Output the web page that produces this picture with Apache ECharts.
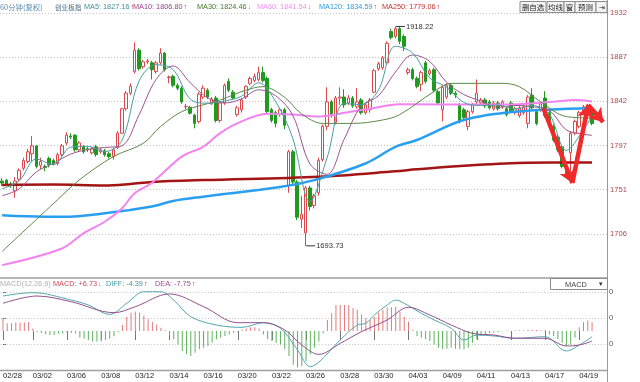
<!DOCTYPE html>
<html><head><meta charset="utf-8">
<script src="https://cdn.jsdelivr.net/npm/echarts@6/dist/echarts.min.js"></script>
<style>html,body{margin:0;padding:0;background:#fff}#c{width:640px;height:382px}</style>
</head><body><div id="c"></div>
<script>
// ---- data ----
const days = ["02/28","03/01","03/02","03/05","03/06","03/07","03/08","03/09","03/12","03/13","03/14","03/15","03/16","03/19","03/20","03/21","03/22","03/23","03/26","03/27","03/28","03/29","03/30","04/02","04/03","04/04","04/09","04/10","04/11","04/12","04/13","04/16","04/17","04/18","04/19"];
const labelDays = ["02/28","03/02","03/06","03/08","03/12","03/14","03/16","03/20","03/22","03/26","03/28","03/30","04/03","04/09","04/11","04/13","04/17","04/19"];
// [open, close, low, high]
const candles = [
[1760,1758,1755,1763],[1761,1757,1755,1762],[1757,1756,1753,1759],[1750,1760,1743,1764],[1762,1771,1760,1773],[1773,1781,1771,1784],[1780,1790,1778,1793],
[1788,1796,1780,1806],[1796,1775,1773,1797],[1776,1780,1772,1784],[1775,1774,1770,1777],
[1783,1777,1774,1785],[1781,1778,1776,1783],[1778,1787,1776,1789],[1787,1796,1785,1798],
[1799,1807,1797,1810],[1806,1805,1803,1809],[1807,1792,1790,1808],[1792,1799,1790,1801],
[1795,1790,1788,1797],[1793,1792,1790,1795],[1789,1793,1787,1795],[1795,1787,1785,1797],
[1790,1792,1788,1794],[1791,1787,1785,1793],[1788,1785,1783,1790],[1785,1792,1782,1794],
[1794,1809,1793,1811],[1809,1834,1808,1835],[1834,1850,1832,1852],[1850,1857,1848,1860],
[1872,1894,1870,1902],[1894,1875,1873,1896],[1877,1882,1875,1884],[1882,1883,1880,1885],
[1881,1874,1864,1883],[1872,1881,1870,1883],[1881,1891,1879,1896],[1891,1874,1872,1892],
[1866,1866.5,1860,1868],[1867,1858,1856,1869],[1858,1855,1853,1860],[1855,1841,1839,1857],
[1836,1836.5,1833,1839],[1835.5,1829.5,1828,1837],[1827.6,1819,1814,1829],[1821,1849,1819,1851],
[1846,1855,1844,1858],[1853,1846,1844,1855],[1839,1844,1838,1846],[1845,1822,1820,1847],
[1822,1840,1820,1842],[1840,1858,1838,1860],[1862,1853,1851,1865],[1851,1845,1843,1853],
[1828,1835,1826,1837],[1833,1843,1830,1845],[1846,1857,1844,1858],[1860,1865,1858,1867],
[1863,1867,1861,1870],[1864,1871,1862,1877],[1871,1863,1861,1877],[1865,1831,1829,1867],
[1833,1822,1820,1835],[1830,1819,1815,1832],[1828,1833,1826,1835],[1833,1817,1813,1835],
[1755,1790,1748,1792],[1790,1759,1757,1792],[1759,1723,1720,1761],[1721,1726,1712,1745],
[1707,1753,1693.73,1755],[1753,1734,1730,1755],[1735,1745,1732,1747],[1748,1781,1745,1784],
[1782,1816,1780,1818],[1816,1841,1812,1856],[1841,1827,1825,1843],[1820,1845,1818,1847],
[1845,1846,1838,1856],[1846,1838,1835,1854],[1840,1845,1838,1848],[1845,1837,1835,1847],
[1836,1841,1834,1855],[1843,1830,1828,1845],[1830,1838,1828,1840],[1833,1843,1830,1845],
[1851,1873,1850,1875],[1875,1880,1873,1882],[1876,1886,1874,1888],[1881,1901,1879,1903],
[1913,1907,1905,1916],[1908,1916,1906,1918.22],[1916,1903,1900,1918],[1908,1898,1893,1910],
[1871,1874,1869,1876],[1874,1865,1863,1876],[1865,1857,1855,1867],[1859,1871,1852,1873],
[1881,1862,1860,1883],[1870,1873,1868,1875],[1874,1853,1851,1876],[1851.5,1840,1838,1853],
[1833,1856,1821,1858],[1846,1858,1844,1860],[1858,1850,1848,1860],[1850,1848,1845,1852],
[1838,1821,1819,1840],[1833,1825,1822,1835],[1816,1831,1812,1833],[1831,1838,1829,1840],
[1841,1850,1838,1864],[1840,1843,1838,1845],[1843,1837,1835,1845],[1841,1835,1833,1843],
[1834,1840,1832,1842],[1840,1834,1832,1842],[1836,1841,1834,1843],[1834,1828,1826,1836],
[1840,1832,1830,1842],[1830,1834,1828,1836],[1827,1835,1825,1837],[1830,1836,1828,1838],
[1819,1846,1814,1848],[1848,1835,1833,1855],[1831,1819,1817,1833],[1833,1839,1831,1841],
[1845,1827,1825,1852],[1830,1822,1820,1832],[1816,1802,1800,1818],[1805,1792,1790,1807],
[1795,1775,1773,1797],[1770,1766,1762,1776],[1789,1809,1768,1811],[1809,1821,1807,1823],
[1816,1830,1814,1832],[1830,1836,1828,1838],[1836,1833,1828,1839],[1833,1819,1817,1835]
];
// moving averages: [bar index, value]
const ma5 = [[0,1752],[4,1760.4],[8,1782.6],[12,1776.8],[16,1794.6],[20,1795.6],[24,1790.2],[28,1801.4],[32,1862],[36,1879],[40,1874],[44,1843.9],[48,1839.7],[52,1842],[56,1846.8],[60,1860.6],[64,1841.2],[68,1803.6],[72,1739],[76,1783.6],[80,1839.4],[84,1838.2],[88,1852.8],[92,1898],[96,1891.2],[100,1865.6],[104,1856],[108,1840.4],[112,1837.4],[116,1837.8],[120,1833.8],[124,1837.2],[128,1828.4],[132,1791.4],[136,1812.4],[138,1827.16]];
const ma10 = [[0,1745],[4,1752],[8,1769.4],[12,1778.2],[16,1787.5],[20,1792.3],[24,1794.4],[28,1796.1],[32,1827.5],[36,1863.9],[40,1877.8],[44,1860.6],[48,1845.5],[52,1839.9],[56,1844.1],[60,1853.4],[64,1847.3],[68,1827.2],[72,1777.6],[76,1766.9],[80,1802.7],[84,1836.6],[88,1847.1],[92,1871.5],[96,1889],[100,1882.6],[104,1860.9],[108,1848.6],[112,1842],[116,1835.4],[120,1837.4],[124,1836.1],[128,1832.5],[132,1812.3],[136,1808],[138,1806.8]];
const ma30 = [[0,1688],[13,1741],[18,1761],[26,1785],[33,1798.6],[37,1815.6],[42,1831],[47,1838],[51,1843],[57,1853],[61,1856.6],[66,1846],[70,1829],[75,1819],[82,1819],[89,1822.5],[93,1828],[101,1851.5],[105,1860],[117,1860],[121,1856.6],[126,1841],[132,1826],[138,1824.46]];
const ma60 = [[0,1674],[14,1691],[19,1706.5],[24,1718.4],[28,1732],[31,1747.5],[35,1758],[42,1785],[47,1795],[51,1809],[55,1819],[62,1829],[68,1828],[74,1826],[79,1829],[86,1834],[93,1838.5],[117,1838.4],[128,1840.8],[134,1843],[138,1841.54]];
const ma120 = [[0,1725],[10,1723.5],[14,1723.5],[24,1727],[35,1734],[40,1739.6],[47,1744],[65,1754],[73,1761],[85,1778],[92,1795],[97,1802],[108,1822.5],[120,1831],[138,1834.59]];
const ma250 = [[0,1756],[12,1756.5],[24,1755.5],[30,1757],[35,1759],[47,1761],[74,1764.5],[92,1770],[97,1772],[108,1775.7],[123,1778.8],[138,1779.06]];
// MACD
const macdHist = [10,6,6,6.5,6.5,6.5,7,2,-1,-1.5,-2.5,-3,-3,-2,-2,-1,-1.5,-2,-5,-6,-7,-8,-8,-8,-7,-6,-4,-1,4.6,11,14,15,14,12,9,7,5,2.5,0.5,-3.9,-6.4,-10.3,-15.4,-17.9,-19.2,-16.7,-14.1,-12.8,-11.5,-9,-6.4,-5.1,-3.8,-2.6,-1.3,-0.5,1,2,2.8,2.8,2,-2.6,-6.4,-7.7,-9,-10.3,-14.1,-19.2,-26,-28,-27,-23,-17.9,-12.8,-8,-2,8.5,13.6,20,20,20,20,17.7,16.5,12.6,10,8.5,11,14.1,16.2,18.2,18.2,18.7,14.9,11,7.2,0.8,-3.8,-5.1,-6.4,-7.7,-10.3,-12.8,-14.1,-13.6,-12.8,-13.6,-14.1,-14.1,-12.8,-9,-6.4,-3.8,-2.6,-1.8,-1.3,-1,-0.3,0.4,-0.4,0.4,0.5,0.5,1,1,0.8,0.5,0.8,-2.6,-3.8,-6.4,-9,-11.5,-10.3,-5.1,2.8,6.7,8,6.73];
const diff = [[0,26.9],[7,29.5],[16,23.8],[20,20],[25,12.8],[29,21.3],[33,30.2],[37,30.2],[40,23.8],[44,11],[50,4.6],[56,2.8],[61,6.4],[65,2.1],[69,-14.6],[72,-27.4],[74,-24],[79,-6.9],[83,4.6],[85,5.9],[87,12.3],[90,20],[92,23.8],[94,21.3],[98,13.6],[101,8.5],[105,2.1],[108,-6.9],[111,-3.1],[115,-3.8],[120,-5.6],[127,-4.4],[132,-15.4],[135,-10.8],[138,-4.39]];
const dea = [[0,21.3],[8,26.9],[16,22.5],[26,14.1],[31,18.7],[39,28.5],[47,18.7],[55,6.4],[61,6.4],[66,0.8],[70,-10.8],[74,-18],[79,-9.5],[84,-0.5],[90,8.5],[95,18.2],[100,12.3],[105,4.6],[110,-1.8],[115,-3.1],[120,-5.6],[127,-5.6],[132,-11.5],[135,-10.8],[138,-7.75]];
const priceTicks = ["1706","1751","1797","1842","1887","1932"];
// hand-drawn red arrow annotation (bar index, price)
const arrowPts = [[126.6,1834.8],[133.4,1758],[137.1,1837.8],[140.6,1820.4]];
// header legend items: [x, text, colour, trend]
const headerMA = [[84,'MA5: 1827.16','#3f8e98','up'],[133,'MA10: 1806.80','#9a3f88','up'],[197,'MA30: 1824.46','#3f7a2c','down'],[257,'MA60: 1841.54','#f58ef2','down'],[319,'MA120: 1834.59','#2b9de6','up'],[382,'MA250: 1779.06','#c43434','up']];
const headerMACD = [[53,'MACD: +6.73','#cc4a5c','down'],[106,'DIFF: -4.39','#3a9aa0','up'],[155,'DEA: -7.75','#9a4a8f','up']];

// ---- build ----
const cats = [], labelIdx = new Set();
days.forEach((d, k) => {
  const nb = k === 0 ? 3 : 4;
  if (labelDays.includes(d)) labelIdx.add(cats.length);
  for (let j = 0; j < nb; j++) cats.push(d + '#' + j);
});
const EMPTY = 3;
for (let j = 0; j < EMPTY; j++) cats.push('#e' + j);
const N = cats.length;

let hiI = 0, loI = 0;
candles.forEach((c, i) => { if (c[3] > candles[hiI][3]) hiI = i; if (c[2] < candles[loI][2]) loI = i; });

const FONT = "'Liberation Sans','Noto Sans CJK SC',sans-serif";
const CJK = "'Noto Sans CJK SC',sans-serif";
const G0 = {left: -3, top: 13, width: 610, height: 265};
const G1 = {left: -3, top: 279, width: 610, height: 91};
const Y0min = 1660.8, Y0int = 45.2;

function maLine(name, data, color, width, z) {
  return {type: 'line', name, xAxisIndex: 1, yAxisIndex: 0, data, smooth: 0.35, showSymbol: false,
    symbol: 'none', lineStyle: {color, width}, z, silent: true, animation: false};
}
const arrowSegs = [];
for (let k = 0; k < arrowPts.length - 1; k++) arrowSegs.push({coords: [arrowPts[k], arrowPts[k + 1]]});

const mctx = document.createElement('canvas').getContext('2d');
const HF = "7.3px " + FONT;
mctx.font = HF;
const gtext = (x, y, text, fill, font) => ({type: 'text', x, y, silent: true, z: 100,
  style: {text, fill, font: font || HF, verticalAlign: 'middle'}});
const graphics = [
  gtext(0, 7, '60分钟(复权)', '#5b8db3', "7.4px " + CJK),
  gtext(55, 7, '创业板指', '#4a6a85', "6.6px " + CJK),
  gtext(0, 284, 'MACD(12,26,9)', '#b0b0b0'),
];
function addHeader(items, y) {
  items.forEach(([x, t, c, tr]) => {
    graphics.push(gtext(x, y, t, c));
    const w = mctx.measureText(t).width;
    graphics.push(gtext(x + w + 1, y, tr === 'up' ? '↑' : '↓', tr === 'up' ? '#e02020' : '#20b8d8'));
  });
}
addHeader(headerMA, 7);
addHeader(headerMACD, 284);
// toolbar buttons
const btns = [['删自选',520,26],['均线',547,17],['窗',564,11],['预测',575,21],['⇥',596,11]];
btns.forEach(([t, x, w]) => {
  graphics.push({type: 'rect', shape: {x, y: 1.5, width: w, height: 11}, style: {fill: '#f3f3f3', stroke: '#8c8c8c', lineWidth: 1}, z: 99, silent: true});
  graphics.push({type: 'text', x: x + w / 2, y: 7.5, z: 100, silent: true, style: {text: t, fill: '#222', font: "7.4px " + FONT, align: 'center', verticalAlign: 'middle'}});
});
// frame lines
graphics.push({type: 'line', shape: {x1: 607.5, y1: 0, x2: 607.5, y2: 382}, style: {stroke: '#9a9a9a', lineWidth: 1}, z: 98, silent: true});
graphics.push({type: 'line', shape: {x1: 0, y1: 278, x2: 607, y2: 278}, style: {stroke: '#a0a0a0', lineWidth: 1.5}, z: 98, silent: true});
graphics.push({type: 'line', shape: {x1: 0, y1: 370.5, x2: 607, y2: 370.5}, style: {stroke: '#a0a0a0', lineWidth: 1.5}, z: 98, silent: true});
graphics.push({type: 'rect', shape: {x: 550.5, y: 278.5, width: 57, height: 11}, style: {fill: '#fff', stroke: '#8c8c8c', lineWidth: 1}, z: 99, silent: true});
graphics.push({type: 'text', x: 576, y: 284.5, z: 100, silent: true, style: {text: 'MACD', fill: '#444', font: "7.4px " + FONT, align: 'center', verticalAlign: 'middle'}});
graphics.push({type: 'text', x: 601, y: 284.5, z: 100, silent: true, style: {text: '▾', fill: '#333', font: "7px " + FONT, align: 'center', verticalAlign: 'middle'}});

const chart = echarts.init(document.getElementById('c'), null, {renderer: 'canvas'});
chart.setOption({
  animation: false,
  backgroundColor: '#fff',
  grid: [G0, G1],
  xAxis: [
    {type: 'category', gridIndex: 0, data: cats, boundaryGap: true, axisLine: {show: false}, axisTick: {show: false}, axisLabel: {show: false}, splitLine: {show: false}},
    {type: 'value', gridIndex: 0, min: -0.5, max: N - 0.5, show: false},
    {type: 'category', gridIndex: 1, data: cats, boundaryGap: true,
      axisLine: {show: false},
      axisTick: {show: true, alignWithLabel: true, interval: (i) => labelIdx.has(i), length: 9, lineStyle: {color: '#777'}, inside: false},
      axisLabel: {show: true, interval: (i) => labelIdx.has(i), formatter: (v) => v.slice(0, 5), align: 'left', margin: 2, color: '#222', fontSize: 7.6, fontFamily: FONT},
      splitLine: {show: false}},
    {type: 'value', gridIndex: 1, min: -0.5, max: N - 0.5, show: false}
  ],
  yAxis: [
    {type: 'value', gridIndex: 0, position: 'right', min: Y0min, max: Y0min + 6 * Y0int, interval: Y0int, scale: true,
      axisLine: {show: false}, axisTick: {show: false},
      axisLabel: {margin: 3, color: '#b04646', fontSize: 7.6, fontFamily: FONT, showMinLabel: false,
        formatter: (v) => { const k = Math.round((v - Y0min) / Y0int); return k >= 1 ? priceTicks[k - 1] : ''; }},
      splitLine: {show: true, showMinLine: false, lineStyle: {color: '#c4c4c4', type: [1, 2], width: 1}}},
    {type: 'value', gridIndex: 1, position: 'right', min: -30, max: 40, interval: 20,
      axisLine: {show: false}, axisTick: {show: true, length: 3, lineStyle: {color: '#777'}},
      axisLabel: {margin: 2, color: '#555', fontSize: 7.6, fontFamily: FONT, showMinLabel: false, showMaxLabel: false,
        formatter: (v) => String(Math.abs(v)).slice(-1)},
      splitLine: {show: true, showMinLine: false, showMaxLine: false, lineStyle: {color: '#c4c4c4', type: [1, 2], width: 1}}}
  ],
  graphic: graphics,
  series: [
    {type: 'candlestick', name: 'K', xAxisIndex: 0, yAxisIndex: 0, data: candles, barWidth: 3, z: 2,
      itemStyle: {color: '#ffffff', color0: '#1f9a1f', borderColor: '#e0474c', borderColor0: '#1f9a1f', borderWidth: 1},
      markPoint: {symbol: 'rect', symbolSize: [9, 1], symbolOffset: [5, 0], silent: true, animation: false,
        itemStyle: {color: '#333'},
        label: {show: true, position: 'right', distance: 1, color: '#333', fontSize: 7.6, fontFamily: FONT, formatter: (p) => p.data.txt},
        data: [
          {coord: [hiI, candles[hiI][3]], txt: candles[hiI][3].toFixed(2)},
          {coord: [loI, candles[loI][2]], txt: candles[loI][2].toFixed(2)}
        ]}
    },
    maLine('MA250', ma250, '#a31515', 2.5, 3),
    maLine('MA120', ma120, '#2a9ff2', 2.5, 4),
    maLine('MA60', ma60, '#f283f0', 2, 5),
    maLine('MA30', ma30, '#5c8a4a', 1, 6),
    maLine('MA10', ma10, '#9c5590', 1, 7),
    maLine('MA5', ma5, '#4b9da2', 1, 8),
    {type: 'lines', coordinateSystem: 'cartesian2d', xAxisIndex: 1, yAxisIndex: 0, z: 20, silent: true,
      data: arrowSegs, symbol: ['none', 'arrow'], symbolSize: 13, lineStyle: {color: '#f02a2a', width: 4.5, opacity: 1}},
    {type: 'bar', name: 'MACD', xAxisIndex: 2, yAxisIndex: 1, data: macdHist, barWidth: 1, silent: true,
      itemStyle: {color: (p) => p.value >= 0 ? '#e47a7a' : '#5fb25f'}},
    {type: 'line', name: 'DIFF', xAxisIndex: 3, yAxisIndex: 1, data: diff, smooth: 0.35, showSymbol: false, symbol: 'none', lineStyle: {color: '#52a8b0', width: 1}, z: 5},
    {type: 'line', name: 'DEA', xAxisIndex: 3, yAxisIndex: 1, data: dea, smooth: 0.35, showSymbol: false, symbol: 'none', lineStyle: {color: '#94508c', width: 1}, z: 5}
  ]
});
</script>
</body></html>
